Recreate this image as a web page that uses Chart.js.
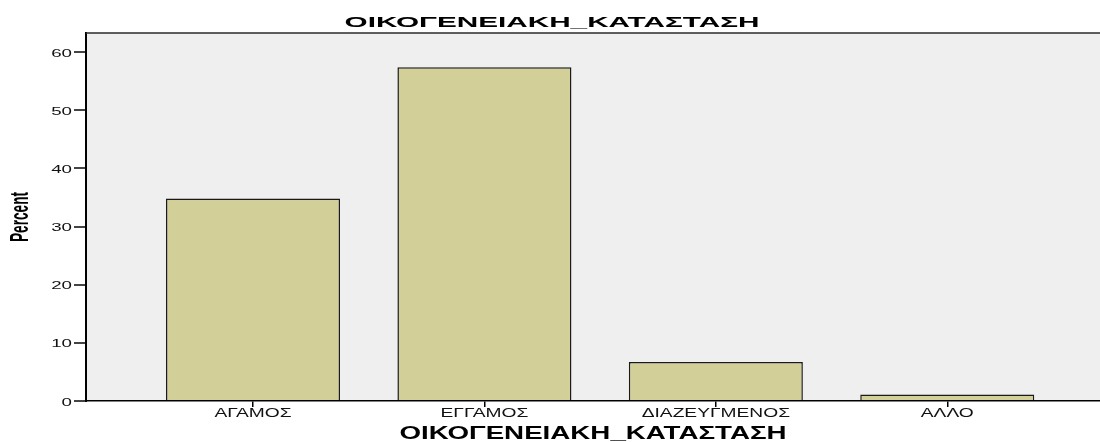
<!DOCTYPE html>
<html>
<head>
<meta charset="utf-8">
<script src="https://cdn.jsdelivr.net/npm/chart.js@4/dist/chart.umd.min.js"></script>
<style>
  html, body { margin: 0; padding: 0; background: #ffffff; }
  #wrap { width: 1100px; height: 442px; }
</style>
</head>
<body>
<div id="wrap"><canvas id="c" width="1100" height="442"></canvas></div>
<script>
const categories = ["ΑΓΑΜΟΣ", "ΕΓΓΑΜΟΣ", "ΔΙΑΖΕΥΓΜΕΝΟΣ", "ΑΛΛΟ"];
const percentValues = [34.8, 57.4, 6.7, 1.1];
const yTickValues = [0, 10, 20, 30, 40, 50, 60];
const chartTitle = "ΟΙΚΟΓΕΝΕΙΑΚΗ_ΚΑΤΑΣΤΑΣΗ";
const xAxisTitle = "ΟΙΚΟΓΕΝΕΙΑΚΗ_ΚΑΤΑΣΤΑΣΗ";
const yAxisTitle = "Percent";

const FONT = '"Liberation Sans", Arial, sans-serif';

function drawStretched(ctx, text, x, y, font, sx, align, color) {
  ctx.save();
  ctx.font = font;
  ctx.fillStyle = color;
  ctx.textBaseline = 'alphabetic';
  ctx.textAlign = 'left';
  const w = ctx.measureText(text).width * sx;
  const left = align === 'center' ? x - w / 2 : (align === 'right' ? x - w : x);
  ctx.translate(left, y);
  ctx.scale(sx, 1);
  ctx.fillText(text, 0, 0);
  ctx.restore();
}

const decorPlugin = {
  id: 'decor',
  beforeDraw(chart) {
    const ctx = chart.ctx;
    const a = chart.chartArea;
    ctx.save();
    ctx.fillStyle = '#ffffff';
    ctx.fillRect(0, 0, chart.width, chart.height);
    ctx.fillStyle = '#efefef';
    ctx.fillRect(a.left, a.top, a.right - a.left, a.bottom - a.top);
    ctx.restore();
  },
  afterDraw(chart) {
    const ctx = chart.ctx;
    const a = chart.chartArea;
    const xs = chart.scales.x;
    const ys = chart.scales.y;
    ctx.save();
    ctx.strokeStyle = '#2a2a2a';
    ctx.lineWidth = 1.5;
    ctx.beginPath();
    ctx.moveTo(a.left, a.top);
    ctx.lineTo(a.right, a.top);
    ctx.stroke();
    ctx.restore();

    drawStretched(ctx, chartTitle, 552, 27.3, 'bold 15px ' + FONT, 1.98, 'center', '#000');
    drawStretched(ctx, xAxisTitle, (a.left + a.right) / 2, 439, 'bold 18px ' + FONT, 1.54, 'center', '#000');
    categories.forEach((c, i) => {
      drawStretched(ctx, c, xs.getPixelForValue(i), 417, '12px ' + FONT, 1.6, 'center', '#111');
    });
    yTickValues.forEach(v => {
      drawStretched(ctx, String(v), a.left - 14, ys.getPixelForValue(v) + 4.6, '11px ' + FONT, 1.7, 'right', '#111');
    });
    ctx.save();
    ctx.translate(28, (a.top + a.bottom) / 2);
    ctx.rotate(-Math.PI / 2);
    ctx.font = 'bold 25px ' + FONT;
    ctx.fillStyle = '#000';
    ctx.textAlign = 'center';
    ctx.textBaseline = 'alphabetic';
    ctx.scale(0.545, 1);
    ctx.fillText(yAxisTitle, 0, 0);
    ctx.restore();
  }
};

new Chart(document.getElementById('c'), {
  type: 'bar',
  data: {
    datasets: [{
      label: 'Percent',
      data: categories.map((c, i) => ({ x: i, y: percentValues[i] })),
      backgroundColor: '#d3cf99',
      borderColor: '#1a1a1a',
      borderWidth: 1.5,
      categoryPercentage: 1,
      barPercentage: 0.752
    }]
  },
  options: {
    responsive: false,
    animation: false,
    devicePixelRatio: 1,
    layout: { padding: { left: 74, top: 33, right: 0, bottom: 35 } },
    plugins: {
      legend: { display: false },
      title: { display: false },
      tooltip: { enabled: false }
    },
    scales: {
      x: {
        type: 'linear',
        offset: false,
        min: -0.7217,
        max: 3.66,
        afterBuildTicks(scale) {
          scale.ticks = categories.map((c, i) => ({ value: i }));
        },
        ticks: { display: false },
        grid: { offset: false, drawOnChartArea: false, drawTicks: true, tickLength: 6, color: '#000', lineWidth: 1.5 },
        border: { display: true, color: '#000', width: 1.5 }
      },
      y: {
        min: 0,
        max: 63.27,
        ticks: { display: false, stepSize: 10, includeBounds: false },
        grid: { drawOnChartArea: false, drawTicks: true, tickLength: 12, color: '#444', lineWidth: 2 },
        border: { display: true, color: '#000', width: 2 }
      }
    }
  },
  plugins: [decorPlugin]
});
</script>
</body>
</html>
